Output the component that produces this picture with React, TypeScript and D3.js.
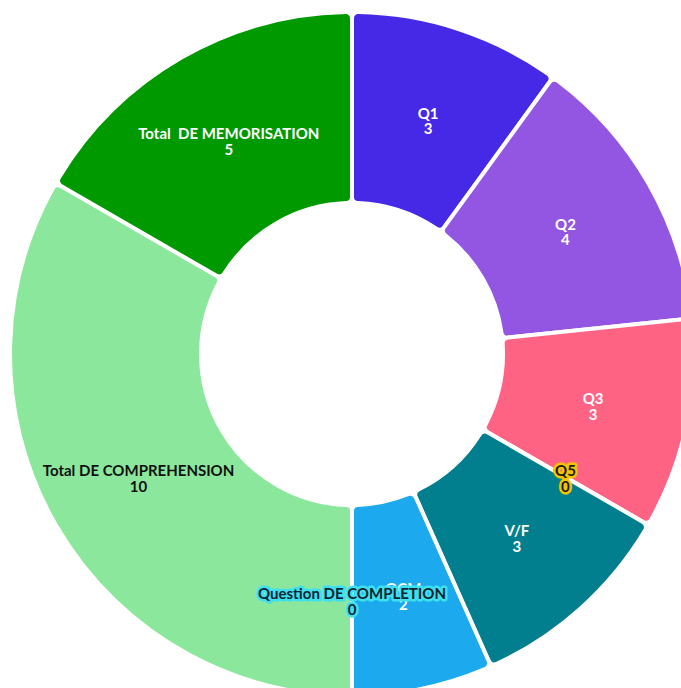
import React from "react";
import * as d3 from "d3";

const categories = ["Q1", "Q2", "Q3", "Q5", "V/F", "QCM", "Question DE COMPLETION", "Total DE COMPREHENSION", "Total  DE MEMORISATION"];
const values = [3, 4, 3, 0, 3, 2, 0, 10, 5];
const colors = ["#4529e6", "#9256e3", "#ff6384", "#f5c400", "#027f8e", "#1da9ee", "#3ee0f0", "#8be79b", "#009900"];
const textColors = ["#ffffff", "#ffffff", "#ffffff", "#1a1a1a", "#ffffff", "#ffffff", "#0f2530", "#111111", "#ffffff"];
const textStrokes = ["none", "none", "none", "#f5c400", "none", "none", "#3ee0f0", "none", "none"];

const W = 681;
const H = 688;
const cx = 352;
const cy = 354;
const outerR = 342;
const innerR = 151;

export default function App() {
  const data = categories.map((c, i) => ({ c, v: values[i], i }));
  const pie = d3.pie<any>().value((d: any) => d.v).sort(null);
  const arcs = pie(data);
  const arc = d3.arc<any>().innerRadius(innerR).outerRadius(outerR).cornerRadius(6);
  const labelArc = d3.arc<any>().innerRadius((innerR + outerR) / 2).outerRadius((innerR + outerR) / 2);
  return (
    <svg width={W} height={H} style={{ position: "absolute", left: 0, top: 0 }} fontFamily="Lato, sans-serif">
      <g transform={`translate(${cx},${cy})`}>
        {arcs.map((a, k) => (
          <path key={k} d={arc(a) || ""} fill={colors[a.data.i]} stroke="#ffffff" strokeWidth={4} strokeLinejoin="round" />
        ))}
        {arcs.map((a, k) => {
          const [x, y] = labelArc.centroid(a);
          const i = a.data.i;
          const st = textStrokes[i];
          return (
            <text key={"t" + k} x={x} y={y} textAnchor="middle" fontWeight="bold" fontSize={15}
              fill={textColors[i]} stroke={st === "none" ? "none" : st} strokeWidth={st === "none" ? 0 : 5}
              strokeLinejoin="round" paintOrder="stroke" style={{ whiteSpace: "pre" }}>
              <tspan x={x} dy="-0.07em">{a.data.c}</tspan>
              <tspan x={x} dy="1.05em">{String(a.data.v)}</tspan>
            </text>
          );
        })}
      </g>
    </svg>
  );
}
